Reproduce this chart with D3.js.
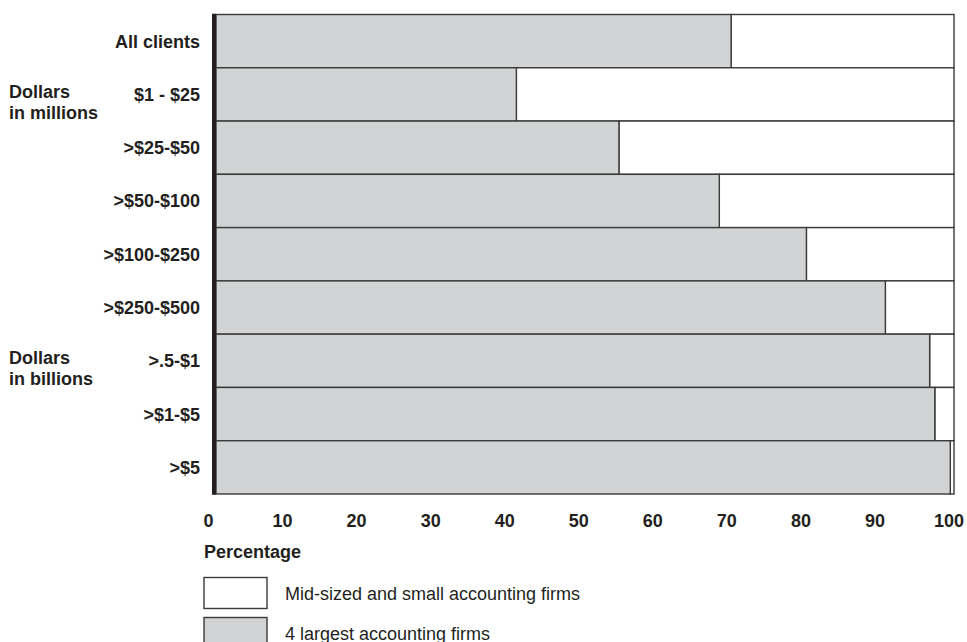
<!DOCTYPE html>
<html>
<head>
<meta charset="utf-8">
<script src="https://cdn.jsdelivr.net/npm/d3@7"></script>
<style>
  html, body { margin: 0; padding: 0; background: #fff; }
  svg { display: block; font-family: "Liberation Sans", Arial, Helvetica, sans-serif; }
</style>
</head>
<body>
<svg id="chart" width="967" height="642"></svg>
<script>
const categories = ["All clients", "$1 - $25", ">$25-$50", ">$50-$100", ">$100-$250", ">$250-$500", ">.5-$1", ">$1-$5", ">$5"];
const big4Share = [69.8, 40.7, 54.6, 68.2, 80.0, 90.7, 96.7, 97.4, 99.5];
const groupLabels = [
  { lines: ["Dollars", "in millions"], row: "$1 - $25" },
  { lines: ["Dollars", "in billions"], row: ">.5-$1" }
];
const tickValues = [0, 10, 20, 30, 40, 50, 60, 70, 80, 90, 100];
const seriesNames = ["Mid-sized and small accounting firms", "4 largest accounting firms"];
const seriesColors = ["#ffffff", "#d1d3d4"];

const svg = d3.select("#chart");
const ink = "#231f20";
const stroke = "#3a3a3a";
const fs = 18;

const x = d3.scaleLinear().domain([0, 100]).range([216, 954]);
const xLabel = d3.scaleLinear().domain([0, 100]).range([208, 948.5]);
const y = d3.scaleBand().domain(categories).range([14.5, 494]).padding(0);

const rows = svg.append("g").selectAll("g")
  .data(categories.map((c, i) => ({ c, v: big4Share[i] })))
  .join("g");

// white remainder (mid-sized & small)
rows.append("rect")
  .attr("x", d => x(d.v))
  .attr("y", d => y(d.c))
  .attr("width", d => x(100) - x(d.v))
  .attr("height", y.bandwidth())
  .attr("fill", seriesColors[0])
  .attr("stroke", stroke)
  .attr("stroke-width", 1.4);

// gray (big 4)
rows.append("rect")
  .attr("x", x(0))
  .attr("y", d => y(d.c))
  .attr("width", d => x(d.v) - x(0))
  .attr("height", y.bandwidth())
  .attr("fill", seriesColors[1])
  .attr("stroke", stroke)
  .attr("stroke-width", 1.4);

// thick left axis line
svg.append("line")
  .attr("x1", x(0) - 2).attr("x2", x(0) - 2)
  .attr("y1", y.range()[0] - 0.7).attr("y2", y.range()[1] + 0.7)
  .attr("stroke", ink).attr("stroke-width", 4);

// category labels
svg.append("g").selectAll("text")
  .data(categories)
  .join("text")
  .attr("x", 200)
  .attr("y", d => y(d) + y.bandwidth() / 2 + 6.5)
  .attr("text-anchor", "end")
  .attr("font-weight", "bold")
  .attr("font-size", fs)
  .attr("fill", ink)
  .text(d => d);

// group labels
groupLabels.forEach(g => {
  const base = y(g.row) + y.bandwidth() / 2 + 3.5;
  const t = svg.append("text")
    .attr("x", 9)
    .attr("y", base)
    .attr("font-weight", "bold")
    .attr("font-size", fs)
    .attr("fill", ink);
  g.lines.forEach((ln, i) => {
    t.append("tspan").attr("x", 9).attr("y", base + i * 21).text(ln);
  });
});

// x axis tick labels
const axis = d3.axisBottom(xLabel).tickValues(tickValues).tickSize(0).tickPadding(0).tickFormat(d3.format("d"));
const ax = svg.append("g").attr("transform", "translate(0,527)").call(axis);
ax.select(".domain").remove();
ax.selectAll("text")
  .attr("y", 0).attr("dy", 0)
  .attr("font-family", "Liberation Sans, Arial, sans-serif")
  .attr("font-weight", "bold")
  .attr("font-size", fs)
  .attr("fill", ink);

// axis title
svg.append("text")
  .attr("x", 204).attr("y", 558)
  .attr("font-weight", "bold")
  .attr("font-size", fs)
  .attr("fill", ink)
  .text("Percentage");

// legend
const legend = svg.append("g").selectAll("g")
  .data(seriesNames.map((n, i) => ({ n, c: seriesColors[i], i })))
  .join("g")
  .attr("transform", d => `translate(204,${577.5 + d.i * 40})`);
legend.append("rect")
  .attr("width", 63).attr("height", 31)
  .attr("fill", d => d.c)
  .attr("stroke", stroke).attr("stroke-width", 1.4);
legend.append("text")
  .attr("x", 81).attr("y", 22)
  .attr("font-size", fs)
  .attr("fill", ink)
  .text(d => d.n);
</script>
</body>
</html>
